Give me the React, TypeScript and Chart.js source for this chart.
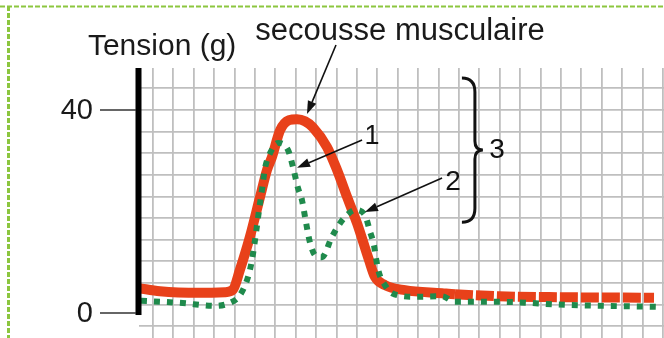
import { useEffect, useRef } from 'react';
import { Chart, registerables } from 'chart.js';

Chart.register(...registerables);

// ---- data (x: time in grid units, y: tension in g) ----
const RED_X = [-0.69, 0.34, 2.3, 3.53, 3.92, 4.26, 4.75, 5.25, 5.59, 5.83, 6.23, 6.67, 7.06, 7.45, 7.84, 8.53, 9.02, 9.51, 10.0, 10.59, 10.88, 11.37, 12.35, 14.17, 14.8, 16.96, 20.2, 24.56];
const RED_Y = [4.9, 4.3, 4.0, 4.1, 4.6, 8.5, 15, 22.9, 28.2, 30.7, 36, 38, 38.2, 37.8, 36.6, 32.7, 28.2, 22.9, 17.7, 10.4, 7.1, 5.5, 4.5, 3.9, 3.7, 3.3, 3.1, 3.0];
const RED_DASH_FROM = 14.8;

const GREEN_X = [-0.59, 1.32, 3.04, 3.77, 4.26, 4.66, 4.85, 5.05, 5.2, 5.34, 5.49, 5.74, 6.13, 6.62, 6.86, 7.11, 7.3, 7.45, 7.7, 7.99, 8.28, 8.77, 9.17, 9.51, 9.9, 10.39, 10.64, 10.83, 10.93, 11.08, 11.37, 11.72, 12.84, 14.17, 14.8, 16.96, 20.2, 24.71];
const GREEN_Y = [2.4, 2.0, 1.4, 2.0, 3.5, 7.1, 10.4, 15.8, 20.3, 24.2, 28.5, 31.5, 33.5, 32.1, 28.8, 24.6, 22.3, 19, 13.8, 11.2, 11, 15, 17.7, 19.3, 20.3, 19.3, 16, 13.4, 10.8, 7.9, 5.5, 3.9, 3.2, 3.3, 2.2, 2.2, 1.6, 1.2];

const Y_TICK_VALUES = [0, 40];
const Y_TICK_LABELS = ['0', '40'];
const Y_TITLE = 'Tension (g)';
const TITLE = 'secousse musculaire';
const LABEL_1 = '1';
const LABEL_2 = '2';
const LABEL_3 = '3';

const X_GRID = Array.from({ length: 26 }, (_, i) => i);
const Y_GRID_STEP = 4.26;
const Y_GRID = Array.from({ length: 12 }, (_, i) => 40 + (i - 10) * Y_GRID_STEP);

const FONT = '"Liberation Sans", Arial, sans-serif';
const RED = '#e8411a';
const GREEN = '#1f8a4c';
const GRID = '#bfbfbf';

function drawArrow(ctx: CanvasRenderingContext2D, x1: number, y1: number, x2: number, y2: number) {
  const ang = Math.atan2(y2 - y1, x2 - x1);
  const len = 13;
  const hw = 4.5;
  const bx = x2 - Math.cos(ang) * len;
  const by = y2 - Math.sin(ang) * len;
  ctx.beginPath();
  ctx.moveTo(x1, y1);
  ctx.lineTo(bx, by);
  ctx.lineWidth = 1.6;
  ctx.strokeStyle = '#111';
  ctx.stroke();
  ctx.beginPath();
  ctx.moveTo(x2, y2);
  ctx.lineTo(bx - Math.sin(ang) * hw, by + Math.cos(ang) * hw);
  ctx.lineTo(bx + Math.sin(ang) * hw, by - Math.cos(ang) * hw);
  ctx.closePath();
  ctx.fillStyle = '#111';
  ctx.fill();
}

const overlay = {
  id: 'overlay',
  beforeDraw(chart: any) {
    const { ctx, width, height } = chart;
    ctx.save();
    ctx.fillStyle = '#fff';
    ctx.fillRect(0, 0, width, height);
    ctx.strokeStyle = '#8cc63f';
    ctx.setLineDash([5, 2]);
    ctx.lineWidth = 2;
    ctx.beginPath();
    ctx.moveTo(0, 6.5);
    ctx.lineTo(width, 6.5);
    ctx.stroke();
    ctx.lineWidth = 3;
    ctx.beginPath();
    ctx.moveTo(8.5, 6);
    ctx.lineTo(8.5, height);
    ctx.stroke();
    ctx.restore();
  },
  afterDatasetsDraw(chart: any) {
    const { ctx, chartArea } = chart;
    const xs = chart.scales.x;
    const ys = chart.scales.y;
    const px = (u: number) => xs.getPixelForValue(u);
    const py = (v: number) => ys.getPixelForValue(v);
    const left = chartArea.left;
    ctx.save();
    // y axis bar
    ctx.fillStyle = '#000';
    ctx.fillRect(left - 3.5, chartArea.top, 6, py(-0.4) - chartArea.top);
    // tick marks + labels
    ctx.font = `29px ${FONT}`;
    ctx.textBaseline = 'middle';
    ctx.textAlign = 'right';
    Y_TICK_VALUES.forEach((v, i) => {
      const yy = py(v);
      ctx.strokeStyle = '#333';
      ctx.lineWidth = 1.6;
      ctx.beginPath();
      ctx.moveTo(left - 39, yy);
      ctx.lineTo(left - 3, yy);
      ctx.stroke();
      ctx.fillStyle = '#1a1a1a';
      ctx.fillText(Y_TICK_LABELS[i], left - 46, yy + 1);
    });
    // axis title
    ctx.textAlign = 'left';
    ctx.textBaseline = 'alphabetic';
    ctx.font = `30px ${FONT}`;
    ctx.fillText(Y_TITLE, px(-3.19), py(50.8));
    // title
    ctx.textAlign = 'center';
    ctx.font = `31px ${FONT}`;
    ctx.fillText(TITLE, px(12.11), py(53.8));
    // arrows
    drawArrow(ctx, px(8.97), py(52.8), px(7.55), py(39.2));
    drawArrow(ctx, px(10.25), py(34.1), px(7.06), py(28.6));
    drawArrow(ctx, px(14.17), py(26.6), px(10.39), py(19.9));
    // number labels
    ctx.font = `27px ${FONT}`;
    ctx.textBaseline = 'middle';
    ctx.fillText(LABEL_1, px(10.74), py(34.7));
    ctx.font = `28px ${FONT}`;
    ctx.fillText(LABEL_2, px(14.71), py(25.8));
    ctx.fillText(LABEL_3, px(16.86), py(32.1));
    // brace
    const bx = px(15.78);
    const top = py(46.3);
    const bot = py(17.9);
    const mid = py(32.1);
    ctx.beginPath();
    ctx.moveTo(bx - 13, top);
    ctx.quadraticCurveTo(bx, top, bx, top + 14);
    ctx.lineTo(bx, mid - 9);
    ctx.quadraticCurveTo(bx, mid, bx + 8, mid);
    ctx.quadraticCurveTo(bx, mid, bx, mid + 9);
    ctx.lineTo(bx, bot - 14);
    ctx.quadraticCurveTo(bx, bot, bx - 13, bot);
    ctx.lineWidth = 3;
    ctx.strokeStyle = '#111';
    ctx.stroke();
    ctx.restore();
  },
};

export default function App() {
  const ref = useRef<HTMLCanvasElement>(null);
  useEffect(() => {
    if (!ref.current) return;
    const chart = new Chart(ref.current, {
      type: 'line',
      data: {
        datasets: [
          {
            data: GREEN_X.map((x, i) => ({ x, y: GREEN_Y[i] })),
            borderColor: GREEN,
            borderWidth: 6,
            borderDash: [6, 7],
            borderCapStyle: 'butt',
            pointRadius: 0,
            cubicInterpolationMode: 'monotone',
            fill: false,
          },
          {
            data: RED_X.map((x, i) => ({ x, y: RED_Y[i] })),
            borderColor: RED,
            borderWidth: 10,
            borderCapStyle: 'butt',
            borderJoinStyle: 'round',
            pointRadius: 0,
            cubicInterpolationMode: 'monotone',
            fill: false,
            segment: {
              borderDash: (c: any) => (c.p0.parsed.x >= RED_DASH_FROM ? [18, 3] : undefined),
            },
          },
        ],
      },
      options: {
        responsive: false,
        animation: false,
        devicePixelRatio: 1,
        layout: { padding: { left: 139, top: 68, right: 0, bottom: 0 } },
        plugins: { legend: { display: false }, tooltip: { enabled: false }, title: { display: false } },
        scales: {
          x: {
            type: 'linear',
            min: -0.686,
            max: 25.049,
            ticks: { display: false },
            border: { display: false },
            grid: { color: GRID, lineWidth: 1.8, drawTicks: false },
            afterBuildTicks: (s: any) => { s.ticks = X_GRID.map((value) => ({ value })); },
            afterFit: (s: any) => { s.height = 0; },
          },
          y: {
            type: 'linear',
            min: -4.93,
            max: 48.28,
            ticks: { display: false },
            border: { display: false },
            grid: { color: GRID, lineWidth: 1.8, drawTicks: false },
            afterBuildTicks: (s: any) => { s.ticks = Y_GRID.map((value) => ({ value })); },
            afterFit: (s: any) => { s.width = 0; },
          },
        },
      },
      plugins: [overlay],
    });
    return () => chart.destroy();
  }, []);
  return (
    <div style={{ position: 'fixed', left: 0, top: 0, width: 664, height: 338 }}>
      <canvas ref={ref} width={664} height={338} style={{ display: 'block' }} />
    </div>
  );
}
